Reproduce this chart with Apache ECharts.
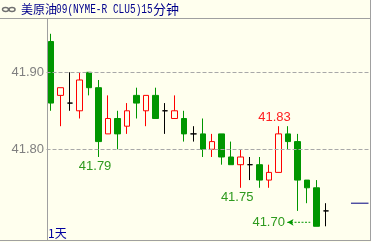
<!DOCTYPE html>
<html>
<head>
<meta charset="utf-8">
<script src="https://cdn.jsdelivr.net/npm/echarts@6/dist/echarts.min.js"></script>
<style>
html,body{margin:0;padding:0;background:#FFFFEE;}
#c{width:371px;height:242px;}
</style>
</head>
<body>
<div id="c"></div>
<script>
// ---- data ----
const categories = ['1','2','3','4','5','6','7','8','9','10','11','12','13','14','15','16','17','18','19','20','21','22','23','24','25','26','27','28','29','30','31','32','33','34'];
const opens  = [41.94,41.87,41.86,41.85,41.90,41.88,41.82,41.84,41.83,41.87,41.85,41.87,41.85,41.84,41.84,41.82,41.82,41.80,41.82,41.79,41.78,41.78,41.78,41.76,41.77,41.82,41.81,41.76,41.75,41.72];
const closes = [41.86,41.88,41.86,41.89,41.88,41.81,41.84,41.82,41.85,41.86,41.87,41.84,41.85,41.85,41.82,41.82,41.80,41.81,41.79,41.78,41.79,41.78,41.76,41.77,41.82,41.81,41.76,41.75,41.70,41.72];
const lows   = [41.85,41.83,41.85,41.84,41.87,41.79,41.82,41.80,41.82,41.84,41.83,41.84,41.82,41.84,41.81,41.81,41.79,41.79,41.78,41.78,41.75,41.76,41.75,41.75,41.77,41.80,41.72,41.73,41.70,41.70];
const highs  = [41.95,41.88,41.90,41.90,41.90,41.89,41.87,41.85,41.86,41.88,41.87,41.88,41.86,41.87,41.85,41.83,41.84,41.82,41.82,41.81,41.80,41.79,41.79,41.78,41.83,41.83,41.82,41.76,41.76,41.73];
const yTickValues = [41.80, 41.90];
const lowMarks  = [{idx: 5, value: 41.79}, {idx: 20, value: 41.75}];
const highMarks = [{idx: 24, value: 41.83}];
const periodLow = 41.70;
const lastPrice = 41.73;
const titleCJK1 = '美原油';
const titleASCII = '09(NYME-R CLU5)15';
const titleCJK2 = '分钟';
const periodText = '1天';

// ---- styles ----
const BG = '#FFFFEE';
const RED = '#FF0000';
const GREEN = '#009600';
const LBL_GREEN = '#2E9A1E';
const GRID_TOP = 18, GRID_LEFT = 46.5, GRID_RIGHT = 2.5, GRID_BOTTOM = 2;
const Y_MIN = 41.6822, Y_MAX = 41.9705;
const pxPerUnit = (242 - GRID_TOP - GRID_BOTTOM) / (Y_MAX - Y_MIN);

const candleData = opens.map((o, i) => {
  const item = {value: [o, closes[i], lows[i], highs[i]]};
  if (o === closes[i]) {
    item.itemStyle = {color: '#000', color0: '#000', borderColor: '#000', borderColor0: '#000', borderColorDoji: '#000'};
  }
  return item;
});

const markData = [];
lowMarks.forEach(m => markData.push({coord: [categories[m.idx], m.value], value: m.value.toFixed(2), label: {color: LBL_GREEN, offset: [-3.5, 9.5]}}));
highMarks.forEach(m => markData.push({coord: [categories[m.idx], m.value], value: m.value.toFixed(2), label: {color: '#FF2020', offset: [-4, -9]}}));

const arrowY = periodLow + 4 / pxPerUnit;

const chart = echarts.init(document.getElementById('c'), null, {renderer: 'canvas'});
chart.setOption({
  backgroundColor: BG,
  animation: false,
  grid: {left: GRID_LEFT, right: GRID_RIGHT, top: GRID_TOP, bottom: GRID_BOTTOM, containLabel: false},
  xAxis: [
    {type: 'category', data: categories, boundaryGap: true, show: false},
    {type: 'value', min: 0, max: 34, show: false}
  ],
  yAxis: {
    type: 'value', min: Y_MIN, max: Y_MAX,
    axisLine: {show: false}, axisTick: {show: false}, splitLine: {show: false},
    axisLabel: {
      customValues: yTickValues,
      formatter: v => Number(v).toFixed(2),
      color: '#808080', fontSize: 13, fontFamily: 'Liberation Sans, Arial', margin: 2.5
    }
  },
  series: [
    {
      type: 'candlestick',
      xAxisIndex: 0, yAxisIndex: 0,
      data: candleData,
      barWidth: 6,
      itemStyle: {color: BG, color0: GREEN, borderColor: RED, borderColor0: GREEN, borderColorDoji: '#000', borderWidth: 1},
      emphasis: {disabled: true},
      silent: true,
      markLine: {
        silent: true, symbol: ['none', 'none'], animation: false,
        label: {show: false},
        lineStyle: {type: [4, 2], color: '#A8A8A8', width: 1},
        data: yTickValues.map(v => ({yAxis: v}))
      },
      markPoint: {
        silent: true, symbol: 'circle', symbolSize: 0, animation: false,
        label: {show: true, position: 'inside', formatter: '{c}', fontSize: 13, fontFamily: 'Liberation Sans, Arial'},
        data: markData
      }
    },
    {
      type: 'line', xAxisIndex: 1, yAxisIndex: 0,
      data: [[32.15, lastPrice], [34, lastPrice]],
      symbol: 'none', silent: true,
      lineStyle: {color: '#000080', width: 1}
    },
    {
      type: 'line', xAxisIndex: 1, yAxisIndex: 0,
      data: [[25.45, arrowY], [27.85, arrowY]],
      symbol: 'none', silent: true,
      lineStyle: {color: GREEN, width: 1, type: [2, 1.5]},
      markPoint: {
        silent: true, symbol: 'circle', symbolSize: 0,
        label: {show: true, position: 'inside', formatter: '{c}', color: LBL_GREEN, fontSize: 13, fontFamily: 'Liberation Sans, Arial', offset: [-18, 0]},
        data: [{coord: [25.36, arrowY], value: periodLow.toFixed(2)}]
      },
      markLine: {
        silent: true, symbol: ['none', 'arrow'], symbolSize: [5, 6],
        label: {show: false},
        lineStyle: {color: GREEN, width: 1, type: 'solid'},
        data: [[{coord: [25.9, arrowY]}, {coord: [25.45, arrowY]}]]
      }
    }
  ],
  graphic: [
    {type: 'line', shape: {x1: 0, y1: 18.5, x2: 371, y2: 18.5}, style: {stroke: '#A0A0A0', lineWidth: 1}, silent: true},
    {type: 'line', shape: {x1: 370.5, y1: 0, x2: 370.5, y2: 241}, style: {stroke: '#A0A0A0', lineWidth: 1}, silent: true},
    {type: 'line', shape: {x1: 0, y1: 240.5, x2: 371, y2: 240.5}, style: {stroke: '#A0A0A0', lineWidth: 1}, silent: true},
    {type: 'line', shape: {x1: 47.5, y1: 18, x2: 47.5, y2: 241}, style: {stroke: '#A0A0A0', lineWidth: 1}, silent: true},
    {type: 'ellipse', shape: {cx: 5.5, cy: 9.5, rx: 3, ry: 2}, style: {fill: 'none', stroke: '#707070', lineWidth: 1.5}, silent: true},
    {type: 'ellipse', shape: {cx: 12, cy: 9.5, rx: 3, ry: 2}, style: {fill: 'none', stroke: '#707070', lineWidth: 1.5}, silent: true},
    {type: 'text', x: 21, y: 9.5, style: {text: titleCJK1, fill: '#00008B', font: '12px "Noto Sans CJK SC"', verticalAlign: 'middle', align: 'left'}, silent: true},
    {type: 'text', x: 56, y: 10, scaleX: 0.79, style: {text: titleASCII, fill: '#00008B', font: '12px "Liberation Mono"', verticalAlign: 'middle', align: 'left'}, silent: true},
    {type: 'text', x: 153, y: 9.5, style: {text: titleCJK2, fill: '#00008B', font: '13px "Noto Sans CJK SC"', verticalAlign: 'middle', align: 'left'}, silent: true},
    {type: 'text', x: 48, y: 233, style: {text: periodText, fill: '#0000A0', font: '12px "Noto Sans CJK SC"', verticalAlign: 'middle', align: 'left'}, silent: true}
  ]
});
</script>
</body>
</html>
